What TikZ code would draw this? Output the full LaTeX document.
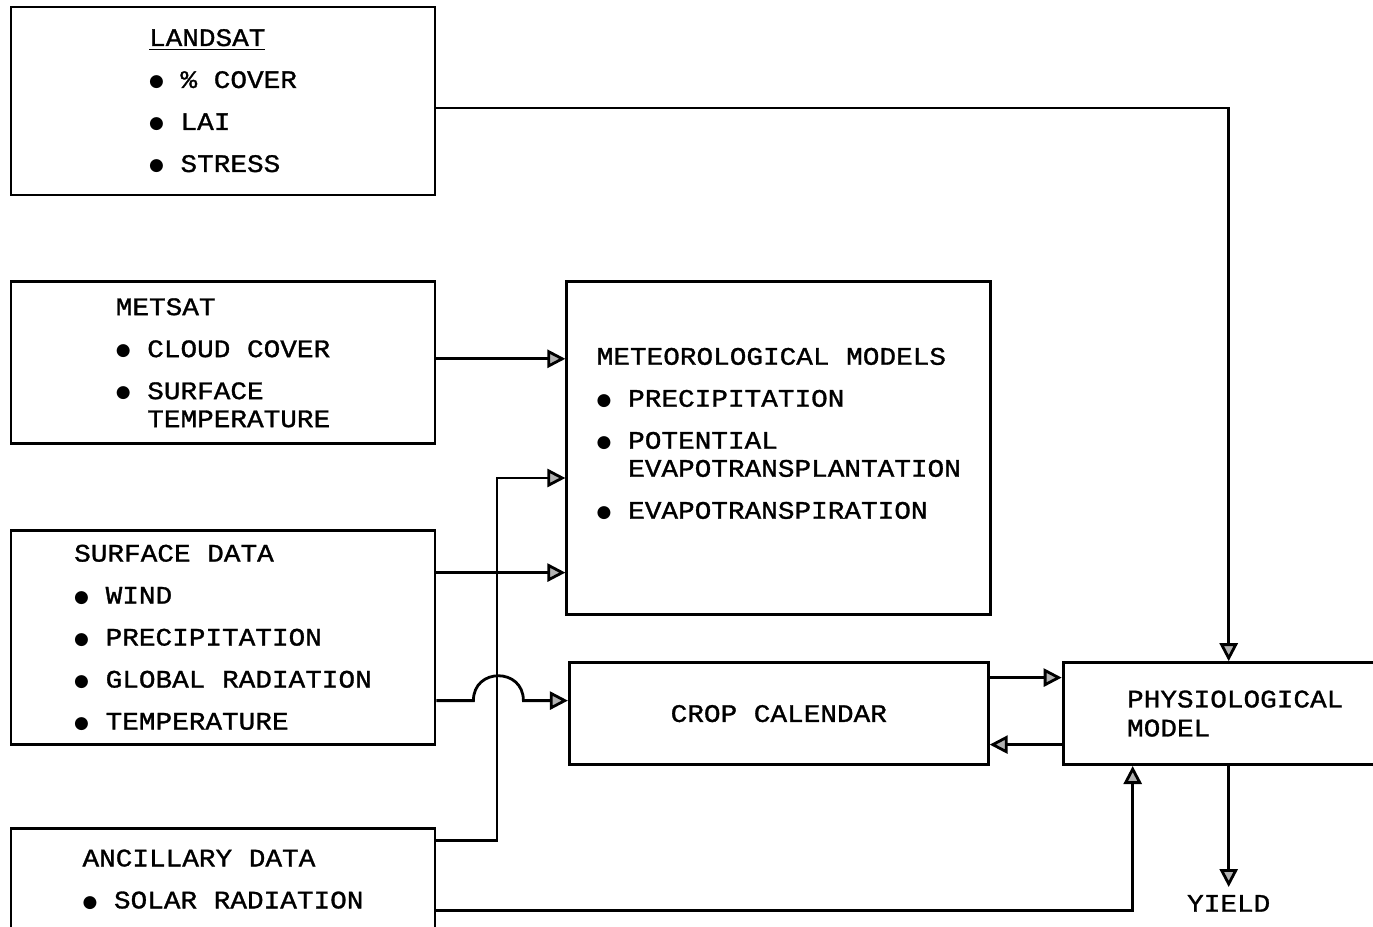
\documentclass[tikz,border=0pt]{standalone}
\usepackage{fontspec}
\newfontfamily\typefont{Liberation Mono}[FakeStretch=1.1, FakeBold=1.2]
\newfontfamily\symbfont{DejaVu Sans}
\usetikzlibrary{positioning, arrows.meta}
\newcommand{\bul}{\raisebox{0.6pt}{\symbfont\fontsize{8.5}{8.5}\selectfont ●}\ }
\newcommand{\nobul}{\hphantom{\bul}}

\begin{document}
\begin{tikzpicture}[
  x=0.5pt, y=-0.5pt,
  every node/.style={font=\typefont\fontsize{12.6}{21}\selectfont},
  databox/.style={draw, align=left, minimum width=212pt},
  line width=1.4pt,
  ->, >={Triangle[open, fill=gray!60, length=9pt, width=9pt]}
]
\useasboundingbox (0,0) rectangle (1373,927);

% Data sources
\node[databox, minimum height=94pt] at (223,101) (landsat) {\underline{LANDSAT}\\ \bul\% COVER\\ \bul LAI\\ \bul STRESS};
\node[databox, minimum height=81pt, below=42pt of landsat] (metsat) {METSAT\\ \bul CLOUD COVER\\ \bul SURFACE\\[-7pt] \nobul TEMPERATURE};
\node[databox, minimum height=107pt, below=42pt of metsat] (surface) {SURFACE DATA\\ \bul WIND\\ \bul PRECIPITATION\\ \bul GLOBAL RADIATION\\ \bul TEMPERATURE};
\node[databox, minimum height=51pt, below=40.5pt of surface] (ancillary) {ANCILLARY DATA\\ \bul SOLAR RADIATION};

% Models
\node[databox, minimum height=166.5pt, right=64.5pt of metsat.north east, anchor=north west] (meteo) {METEOROLOGICAL MODELS\\ \bul PRECIPITATION\\ \bul POTENTIAL\\[-7pt] \nobul EVAPOTRANSPLANTATION\\ \bul EVAPOTRANSPIRATION\\[-6pt]\mbox{}};
\node[draw, minimum width=209.5pt, minimum height=51pt, below=22.5pt of meteo] (crop) {CROP CALENDAR};
\node[draw, align=left, text width=120pt, inner xsep=32pt, minimum height=51pt, right=36pt of crop] (physio) {PHYSIOLOGICAL\\[-6.5pt]MODEL};

\coordinate (landsatin) at ([xshift=83.5pt]physio.north west);
\coordinate (yieldout) at ([xshift=83.5pt]physio.south west);
\coordinate (solarin) at ([xshift=35.5pt]physio.south west);
\coordinate (bus) at (497,478);
\node[below=60.5pt of yieldout] (yield) {YIELD};

% Connections
\draw ([yshift=-3.5pt]landsat.east) -| (landsatin);
\draw ([yshift=2pt]metsat.east) -- ([yshift=2pt]metsat.east -| meteo.west);
\draw ([yshift=32.5pt]surface.east) -- ([yshift=32.5pt]surface.east -| meteo.west);
\draw ([yshift=19.5pt]ancillary.east) -| (bus) -- (bus -| meteo.west);
\draw ([yshift=-31.5pt]surface.east) -- ++(37,0) to[out=90, in=90, looseness=1.7] ++(50,0) coordinate (hopend) -- (hopend -| crop.west);
\draw ([yshift=18pt]crop.east) -- ([yshift=18pt]crop.east -| physio.west);
\draw ([yshift=-15.5pt]physio.west) -- ([yshift=-15.5pt]physio.west -| crop.east);
\draw ([yshift=-15.5pt]ancillary.east) -| (solarin);
\draw (yieldout) -- (yield);

\end{tikzpicture}
\end{document}
